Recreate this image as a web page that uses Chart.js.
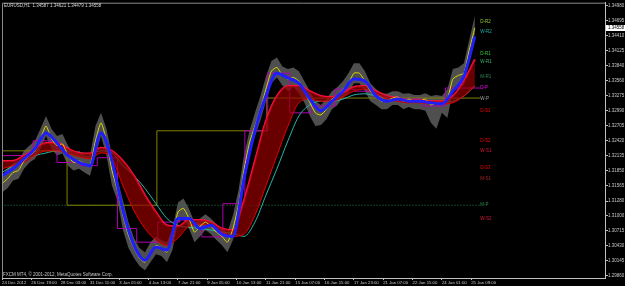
<!DOCTYPE html>
<html>
<head>
<meta charset="utf-8">
<script src="https://cdn.jsdelivr.net/npm/chart.js@4.4.1/dist/chart.umd.min.js"></script>
<style>
  html, body { margin: 0; padding: 0; background: #000; }
  #chart { display: block; }
</style>
</head>
<body>
<canvas id="chart" width="625" height="286"></canvas>
<script>
// EURUSD H1 terminal snapshot
const symbolHeader = 'EURUSD,H1  1.34587 1.34621 1.34479 1.34558';
const copyrightText = 'FXCM MT4, \u00a9 2001-2012, MetaQuotes Software Corp.';
const lastPrice = 1.34558;

// time axis, one label every 32 bars
const timeLabels = ['24 Dec 2012', '26 Dec 19:00', '28 Dec 03:00', '31 Dec 11:00', '3 Jan 05:00',
  '4 Jan 13:00', '7 Jan 21:00', '9 Jan 05:00', '10 Jan 13:00', '11 Jan 21:00', '15 Jan 07:00',
  '16 Jan 15:00', '17 Jan 23:00', '21 Jan 07:00', '22 Jan 15:00', '24 Jan 01:00', '25 Jan 09:00'];
const priceTicks = ['1.34980', '1.34695', '1.34410', '1.34125', '1.33840', '1.33560', '1.33275',
  '1.32990', '1.32705', '1.32420', '1.32135', '1.31850', '1.31565', '1.31280', '1.31000',
  '1.30715', '1.30430', '1.30145', '1.29860'];

// price, sampled every 6 bars
const priceStep = 6;
const priceHigh = [1.3176, 1.3189, 1.3201, 1.3204, 1.3223, 1.3233, 1.3242, 1.3265, 1.3289, 1.3265,
  1.3251, 1.3255, 1.3233, 1.3219, 1.3223, 1.3214, 1.3214, 1.3270, 1.3295, 1.3265,
  1.3214, 1.3170, 1.3129, 1.3088, 1.3058, 1.3039, 1.3031, 1.3050, 1.3061, 1.3054,
  1.3050, 1.3076, 1.3125, 1.3133, 1.3114, 1.3088, 1.3095, 1.3103, 1.3095, 1.3084,
  1.3076, 1.3069, 1.3101, 1.3148, 1.3214, 1.3261, 1.3295, 1.3327, 1.3364, 1.3393,
  1.3400, 1.3383, 1.3378, 1.3381, 1.3374, 1.3355, 1.3336, 1.3317, 1.3310, 1.3321,
  1.3336, 1.3344, 1.3355, 1.3370, 1.3389, 1.3389, 1.3374, 1.3351, 1.3340, 1.3332,
  1.3331, 1.3336, 1.3336, 1.3331, 1.3332, 1.3329, 1.3329, 1.3332, 1.3327, 1.3329,
  1.3327, 1.3340, 1.3378, 1.3381, 1.3389, 1.3434, 1.3479];
const priceLow = [1.3144, 1.3152, 1.3167, 1.3170, 1.3189, 1.3201, 1.3208, 1.3227, 1.3251, 1.3227,
  1.3214, 1.3218, 1.3195, 1.3186, 1.3189, 1.3182, 1.3176, 1.3214, 1.3251, 1.3214,
  1.3157, 1.3129, 1.3073, 1.3039, 1.3020, 1.3005, 1.2997, 1.3012, 1.3027, 1.3024,
  1.3012, 1.3035, 1.3088, 1.3095, 1.3076, 1.3050, 1.3061, 1.3073, 1.3065, 1.3054,
  1.3044, 1.3031, 1.3054, 1.3092, 1.3157, 1.3214, 1.3251, 1.3280, 1.3317, 1.3351,
  1.3362, 1.3347, 1.3336, 1.3344, 1.3332, 1.3314, 1.3289, 1.3270, 1.3272, 1.3283,
  1.3302, 1.3310, 1.3325, 1.3332, 1.3351, 1.3351, 1.3336, 1.3317, 1.3310, 1.3302,
  1.3302, 1.3310, 1.3310, 1.3302, 1.3306, 1.3302, 1.3302, 1.3299, 1.3276, 1.3265,
  1.3295, 1.3285, 1.3336, 1.3347, 1.3347, 1.3393, 1.3445];
const priceClose = [1.3161, 1.3170, 1.3182, 1.3186, 1.3204, 1.3214, 1.3223, 1.3246, 1.3270, 1.3246,
  1.3233, 1.3236, 1.3214, 1.3201, 1.3204, 1.3199, 1.3195, 1.3242, 1.3276, 1.3242,
  1.3186, 1.3148, 1.3101, 1.3063, 1.3039, 1.3020, 1.3012, 1.3031, 1.3044, 1.3039,
  1.3031, 1.3058, 1.3107, 1.3114, 1.3095, 1.3069, 1.3080, 1.3088, 1.3080, 1.3069,
  1.3061, 1.3050, 1.3076, 1.3120, 1.3186, 1.3238, 1.3270, 1.3302, 1.3340, 1.3374,
  1.3381, 1.3366, 1.3359, 1.3362, 1.3355, 1.3336, 1.3314, 1.3295, 1.3291, 1.3302,
  1.3321, 1.3327, 1.3340, 1.3351, 1.3370, 1.3370, 1.3355, 1.3336, 1.3325, 1.3317,
  1.3317, 1.3323, 1.3325, 1.3317, 1.3321, 1.3317, 1.3317, 1.3321, 1.3310, 1.3314,
  1.3312, 1.3321, 1.3359, 1.3366, 1.3370, 1.3415, 1.3456];

// moving averages, sampled every 12 bars
const maStep = 12;
const fastMa = [1.3176, 1.3189, 1.3208, 1.3227, 1.3257, 1.3238, 1.3214, 1.3201, 1.3195, 1.3257,
  1.3204, 1.3110, 1.3044, 1.3016, 1.3041, 1.3035, 1.3095, 1.3095, 1.3076, 1.3082,
  1.3065, 1.3061, 1.3170, 1.3261, 1.3327, 1.3370, 1.3361, 1.3351, 1.3321, 1.3299,
  1.3317, 1.3336, 1.3359, 1.3355, 1.3327, 1.3317, 1.3321, 1.3317, 1.3317, 1.3314,
  1.3312, 1.3336, 1.3364, 1.3440];
const ribbonTop = [1.3204, 1.3204, 1.3214, 1.3227, 1.3238, 1.3238, 1.3227, 1.3219, 1.3218, 1.3229,
  1.3223, 1.3204, 1.3176, 1.3139, 1.3107, 1.3082, 1.3080, 1.3092, 1.3092, 1.3088,
  1.3076, 1.3073, 1.3129, 1.3204, 1.3280, 1.3327, 1.3346, 1.3346, 1.3336, 1.3327,
  1.3325, 1.3332, 1.3344, 1.3346, 1.3336, 1.3327, 1.3323, 1.3319, 1.3319, 1.3317,
  1.3317, 1.3327, 1.3355, 1.3396];
const ribbonBottom = [1.3189, 1.3195, 1.3201, 1.3214, 1.3223, 1.3223, 1.3218, 1.3212, 1.3208, 1.3219,
  1.3208, 1.3157, 1.3110, 1.3076, 1.3054, 1.3044, 1.3058, 1.3080, 1.3084, 1.3080,
  1.3069, 1.3061, 1.3065, 1.3101, 1.3157, 1.3214, 1.3270, 1.3314, 1.3321, 1.3317,
  1.3317, 1.3325, 1.3336, 1.3340, 1.3331, 1.3321, 1.3317, 1.3314, 1.3314, 1.3312,
  1.3312, 1.3314, 1.3327, 1.3346];
const slowMa = [1.3182, 1.3195, 1.3204, 1.3214, 1.3219, 1.3223, 1.3223, 1.3219, 1.3218, 1.3223,
  1.3219, 1.3195, 1.3176, 1.3152, 1.3123, 1.3095, 1.3082, 1.3078, 1.3076, 1.3073,
  1.3069, 1.3067, 1.3061, 1.3088, 1.3139, 1.3189, 1.3242, 1.3289, 1.3310, 1.3317,
  1.3317, 1.3321, 1.3329, 1.3331, 1.3327, 1.3323, 1.3319, 1.3317, 1.3317, 1.3315,
  1.3315, 1.3317, 1.3327, 1.3346];

// pivot step lines (bar where each level starts)
const dailyBars = [0, 34, 60, 85, 104, 126, 147, 170, 194, 218, 241, 265, 290, 314, 338, 364, 385, 410, 434, 459, 484, 503, 522];
const dailyPivot = [1.3195, 1.3214, 1.3242, 1.3201, 1.3195, 1.3210, 1.3076, 1.3050, 1.3088, 1.3092, 1.3060, 1.3123,
  1.3261, 1.3370, 1.3295, 1.3308, 1.3340, 1.3336, 1.3325, 1.3321, 1.3308, 1.3342, 1.3342];
const weeklyBars = [0, 71, 169, 289, 407, 522];
const weeklyPivot = [1.3208, 1.3223, 1.3120, 1.3261, 1.3323, 1.3323];
const monthlyBars = [0, 102, 522];
const monthlyPivot = [1.2960, 1.3120, 1.3120];

// level tags on the right
const pivotNames = ['D-R2', 'W-R2', 'D-R1', 'W-R1', 'M-R1', 'D-P', 'W-P', 'D-S1', 'D-S2', 'W-S1', 'D-S3', 'M-S1', 'M-P', 'W-S2'];
const pivotLevels = [1.3468, 1.3449, 1.3406, 1.3391, 1.3364, 1.3342, 1.3321, 1.3299, 1.3242, 1.3223, 1.3191, 1.3170, 1.3120, 1.3095];
const pivotColors = ['#9acd32', '#20b2aa', '#32cd32', '#3cb371', '#2e8b57', '#ff00ff', '#a0a0a0',
  '#ff0000', '#ff0000', '#dc143c', '#ff0000', '#b22222', '#2e8b57', '#dc143c'];
const tagBar = 522;

const series = (step, arr) => arr.map((v, i) => ({ x: i * step, y: v }));
const steps = (bars, vals) => bars.map((b, i) => ({ x: b, y: vals[i] }));
const font = (size) => ({ family: 'Liberation Sans', size: size });

// black background, frame, texts and tags
const terminalLayer = {
  id: 'terminalLayer',
  beforeDraw(chart) {
    const ctx = chart.ctx;
    ctx.save();
    ctx.fillStyle = '#000';
    ctx.fillRect(0, 0, chart.width, chart.height);
    ctx.restore();
  },
  afterDraw(chart) {
    const { ctx, chartArea: a, scales: { x, y } } = chart;
    ctx.save();
    ctx.strokeStyle = '#8a8a8a';
    ctx.lineWidth = 1;
    ctx.beginPath();
    ctx.moveTo(a.left + 0.5, a.bottom);
    ctx.lineTo(a.left + 0.5, a.top + 0.5);
    ctx.lineTo(a.right, a.top + 0.5);
    ctx.stroke();

    ctx.font = '4.5px "Liberation Sans"';
    ctx.textBaseline = 'middle';
    pivotNames.forEach((name, i) => {
      ctx.fillStyle = pivotColors[i];
      ctx.fillText(name, x.getPixelForValue(tagBar), y.getPixelForValue(pivotLevels[i]));
    });

    ctx.textBaseline = 'top';
    ctx.fillStyle = '#d8d8d8';
    ctx.fillText(symbolHeader, 4, 3.5);
    ctx.fillStyle = '#c8c8c8';
    ctx.fillText(copyrightText, 3, 272.5);

    const py = y.getPixelForValue(lastPrice);
    ctx.fillStyle = '#ffffff';
    ctx.fillRect(a.right + 1, Math.round(py) - 3, chart.width - a.right - 1, 6);
    ctx.fillStyle = '#000000';
    ctx.textBaseline = 'middle';
    ctx.fillText(lastPrice.toFixed(5), a.right + 3, Math.round(py));
    ctx.restore();
  }
};

const ctx = document.getElementById('chart').getContext('2d');
new Chart(ctx, {
  type: 'line',
  data: {
    datasets: [
      { // 0
        label: 'High', data: series(priceStep, priceHigh),
        borderWidth: 0, borderColor: 'rgba(0,0,0,0)', tension: 0, order: 10
      },
      { // 1
        label: 'Low', data: series(priceStep, priceLow),
        borderWidth: 0, borderColor: 'rgba(0,0,0,0)', tension: 0,
        fill: 0, backgroundColor: 'rgba(105,105,105,0.75)', order: 9
      },
      { // 2
        label: 'M-P', data: steps(monthlyBars, monthlyPivot), stepped: 'after',
        borderColor: '#1e8449', borderWidth: 1, borderDash: [1, 2], order: 8
      },
      { // 3
        label: 'W-P', data: steps(weeklyBars, weeklyPivot), stepped: 'after',
        borderColor: '#808000', borderWidth: 1, order: 7
      },
      { // 4
        label: 'D-P', data: steps(dailyBars, dailyPivot), stepped: 'after',
        borderColor: '#b000b0', borderWidth: 1, order: 6
      },
      { // 5
        label: 'Slow MA', data: series(maStep, slowMa),
        borderColor: '#2ab5a5', borderWidth: 1, cubicInterpolationMode: 'monotone', order: 5
      },
      { // 6
        label: 'Ribbon top', data: series(maStep, ribbonTop),
        borderColor: '#ff1040', borderWidth: 2, cubicInterpolationMode: 'monotone', order: 4
      },
      { // 7
        label: 'Ribbon bottom', data: series(maStep, ribbonBottom),
        borderColor: '#e00000', borderWidth: 1, cubicInterpolationMode: 'monotone',
        fill: 6, backgroundColor: 'rgba(150,0,0,0.7)', order: 3
      },
      { // 8
        label: 'Close', data: series(priceStep, priceClose),
        borderColor: 'rgba(230,230,0,0.9)', borderWidth: 1, tension: 0.2, order: 2
      },
      { // 9
        label: 'Fast MA', data: series(maStep, fastMa),
        borderColor: '#1e1eff', borderWidth: 3, cubicInterpolationMode: 'monotone', order: 1
      }
    ]
  },
  options: {
    responsive: false,
    animation: false,
    devicePixelRatio: 1,
    layout: { padding: { left: 2, top: 1, right: 0, bottom: 0 } },
    elements: { point: { radius: 0 } },
    plugins: { legend: { display: false }, tooltip: { enabled: false } },
    scales: {
      x: {
        type: 'linear', min: 0, max: 658,
        afterBuildTicks: (scale) => { scale.ticks = timeLabels.map((t, i) => ({ value: i * 32 })); },
        afterFit: (scale) => { scale.height = 8; },
        ticks: {
          callback: (v, i) => timeLabels[i], align: 'start', maxRotation: 0, autoSkip: false,
          color: '#c8c8c8', font: font(4.3), padding: 0
        },
        grid: { drawOnChartArea: false, color: '#c0c0c0', tickLength: 2 },
        border: { color: '#c0c0c0' }
      },
      y: {
        position: 'right', min: 1.29822, max: 1.35036,
        afterBuildTicks: (scale) => { scale.ticks = priceTicks.map(t => ({ value: parseFloat(t) })); },
        afterFit: (scale) => { scale.width = 20; },
        ticks: { callback: (v, i) => priceTicks[i], color: '#c8c8c8', font: font(4.5), padding: 0 },
        grid: { drawOnChartArea: false, color: '#c0c0c0', tickLength: 3 },
        border: { color: '#c0c0c0' }
      }
    }
  },
  plugins: [terminalLayer]
});
</script>
</body>
</html>
